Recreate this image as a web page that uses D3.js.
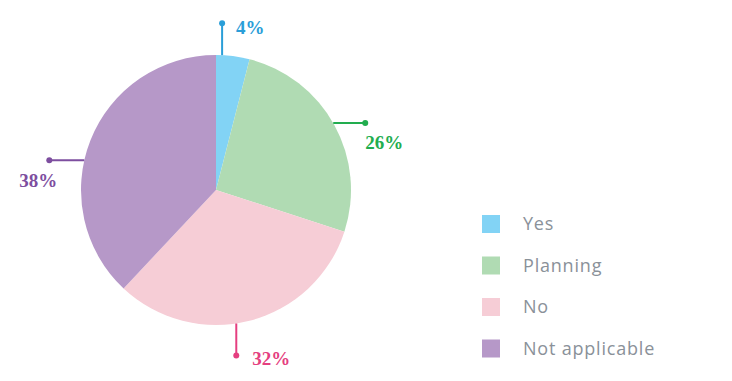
<!DOCTYPE html>
<html><head><meta charset="utf-8">
<script src="https://cdn.jsdelivr.net/npm/d3@7"></script>
<style>html,body{margin:0;padding:0;background:#fff;}svg{display:block;}</style>
</head><body>
<svg id="chart" width="732" height="381"></svg>
<script>
const categories = ["Yes", "Planning", "No", "Not applicable"];
const values = [4, 26, 32, 38];
const sliceColors = ["#82d3f5", "#b0dbb3", "#f6cdd6", "#b698c8"];
const labelColors = ["#2a9ed8", "#22ad4f", "#e53f80", "#7d4e9f"];
// leader layout: direction and position of anchor inside slice (fraction)
const leaderDir = ["up", "right", "down", "left"];
const leaderFrac = [0.18, 0.49, 0.55, 0.435];

const svg = d3.select("#chart");
const cx = 216, cy = 190, R = 135, leaderLen = 32;

const pie = d3.pie().sort(null).value(d => d)(values);
const arc = d3.arc().innerRadius(0).outerRadius(R);
const g = svg.append("g").attr("transform", `translate(${cx},${cy})`);
g.selectAll("path").data(pie).join("path")
  .attr("d", arc).attr("fill", (d, i) => sliceColors[i]);

const total = d3.sum(values);
pie.forEach((d, i) => {
  const a = d.startAngle + (d.endAngle - d.startAngle) * leaderFrac[i];
  const x0 = R * Math.sin(a), y0 = -R * Math.cos(a);
  let x1 = x0, y1 = y0, tx, ty, anchor = "start";
  if (leaderDir[i] === "up") { y1 = y0 - leaderLen; tx = x1 + 14; ty = y1 + 11; }
  else if (leaderDir[i] === "right") { x1 = x0 + leaderLen; tx = x1; ty = y1 + 26; }
  else if (leaderDir[i] === "down") { y1 = y0 + leaderLen; tx = x1 + 16; ty = y1 + 10; }
  else { x1 = x0 - leaderLen - 3; tx = x1 + 8; ty = y1 + 27; anchor = "end"; }
  g.append("line").attr("x1", x0).attr("y1", y0).attr("x2", x1).attr("y2", y1)
    .attr("stroke", labelColors[i]).attr("stroke-width", 2);
  g.append("circle").attr("cx", x1).attr("cy", y1).attr("r", 3).attr("fill", labelColors[i]);
  g.append("text").attr("x", tx).attr("y", ty).attr("text-anchor", anchor)
    .attr("fill", labelColors[i])
    .style("font-family", "'Liberation Serif', serif").style("font-weight", "bold").style("font-size", "19px")
    .text(Math.round(values[i] / total * 100) + "%");
});

const leg = svg.append("g").attr("transform", "translate(482,215)");
const rows = leg.selectAll("g").data(categories).join("g")
  .attr("transform", (d, i) => `translate(0,${i * 41.5})`);
rows.append("rect").attr("width", 18).attr("height", 18).attr("fill", (d, i) => sliceColors[i]);
rows.append("text").attr("x", 41).attr("y", 15).text(d => d)
  .attr("fill", "#8a9199")
  .style("font-family", "'Open Sans', sans-serif").style("font-size", "18px")
  .style("letter-spacing", "0.8px");
</script>
</body></html>
